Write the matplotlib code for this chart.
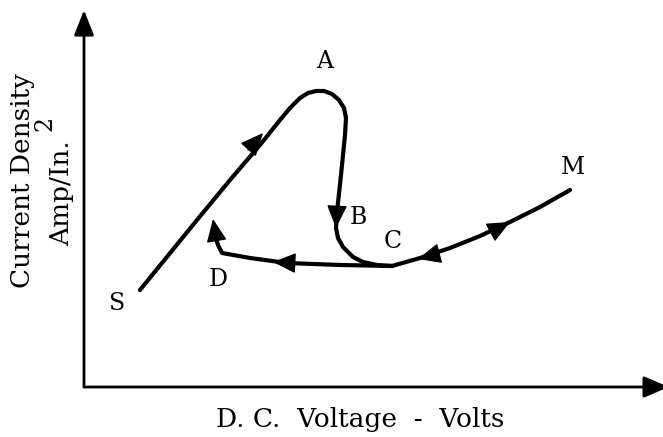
import matplotlib
matplotlib.use('Agg')
import numpy as np
import matplotlib.pyplot as plt

# schematic current-voltage path, arbitrary units (origin at the axis corner)
rise_v = [56, 113, 146, 176, 196, 206, 216, 224, 232, 240, 248, 255, 260, 262,
          261, 257, 253, 252, 254, 259, 269, 279, 293, 308]
rise_i = [97, 167, 207, 242, 267, 279, 289, 294, 296, 296, 293, 287, 279, 269,
          252, 212, 175, 159, 149, 140, 130, 125, 122, 121]

back_v = [308, 256, 203, 166, 138, 134, 131]
back_i = [121, 122, 124, 129, 134, 142, 152]

high_v = [486, 456, 426, 396, 366, 336, 322, 308]
high_i = [197, 180, 165, 151, 139, 129, 125, 121]

# direction arrows on the path: (tail v, tail i, tip v, tip i)
arrows = [
    (164, 237, 179, 254),
    (253, 180, 252, 159),
    (209, 124, 189, 125),
    (132, 150, 129, 168),
    (353, 133, 334, 128),
    (409, 156, 426, 165),
]

point_names = ['A', 'B', 'C', 'D', 'M', 'S']
name_v = [241, 274, 309, 134, 489, 33]
name_i = [325, 169, 146, 107, 220, 84]

serif = 'DejaVu Serif'

fig = plt.figure(figsize=(6.63, 4.37), dpi=100)
ax = fig.add_axes([84 / 663, 50 / 437, 579 / 663, 377 / 437])
ax.set_xlim(0, 579)
ax.set_ylim(0, 377)
ax.axis('off')

# axes drawn as arrows
ax.annotate('', xy=(0, 1), xytext=(0, 0), xycoords='axes fraction',
            arrowprops=dict(arrowstyle='-|>,head_length=1.4,head_width=0.55', mutation_scale=11,
                            color='black', lw=2, shrinkA=0, shrinkB=0), annotation_clip=False)
ax.annotate('', xy=(1.01, 0), xytext=(0, 0), xycoords='axes fraction',
            arrowprops=dict(arrowstyle='-|>,head_length=1.4,head_width=0.6', mutation_scale=11,
                            color='black', lw=2, shrinkA=0, shrinkB=0), annotation_clip=False)

for v, i in [(rise_v, rise_i), (back_v, back_i), (high_v, high_i)]:
    ax.plot(v, i, color='black', lw=3, solid_capstyle='round', solid_joinstyle='round')

for tv, ti, hv, hi in arrows:
    ax.annotate('', xy=(hv, hi), xytext=(tv, ti),
                arrowprops=dict(arrowstyle='-|>,head_length=0.9,head_width=0.4', mutation_scale=16,
                                color='black', lw=1, shrinkA=0, shrinkB=0))

for name, v, i in zip(point_names, name_v, name_i):
    ax.text(v, i, name, fontsize=17, family=serif, ha='center', va='center')

fig.text(360 / 663, 1 - 420 / 437, 'D. C.  Voltage  -  Volts', fontsize=19, family=serif,
         ha='center', va='center')
fig.text(23 / 663, 1 - 181 / 437, 'Current Density', fontsize=19, family=serif,
         rotation=90, ha='center', va='center')
fig.text(62 / 663, 1 - 193 / 437, 'Amp/In.', fontsize=19, family=serif,
         rotation=90, ha='center', va='center')
fig.text(45 / 663, 1 - 123 / 437, '2', fontsize=17, family=serif,
         rotation=90, ha='center', va='center')

fig.savefig('out.png', dpi=100)
